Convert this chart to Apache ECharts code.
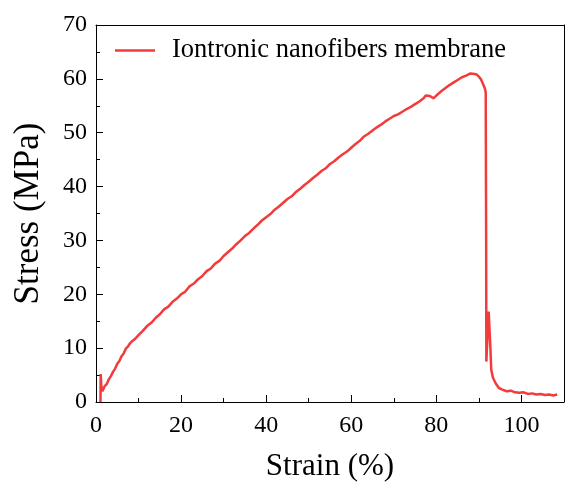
<!DOCTYPE html>
<html><head><meta charset="utf-8">
<script src="https://cdn.jsdelivr.net/npm/echarts@6/dist/echarts.min.js"></script>
<style>html,body{margin:0;padding:0;background:#fff}#c{width:565px;height:488px}</style>
</head><body><div id="c"></div>
<script>
const seriesName = 'Iontronic nanofibers membrane';
const strain = [1.05,1.1,1.3,1.5,2,2.5,3,3.5,4,4.5,5,5.5,6,6.5,7,7.5,8,8.5,9,10,11,12,13,14,15,16,17,18,19,20,21,22,23,24,25,26,27,28,29,30,31,32,33,34,35,36,37,38,39,40,41,42,43,44,45,46,47,48,49,50,51,52,53,54,55,56,57,58,59,60,61,62,63,64,65,66,67,68,69,70,71,72,73,74,75,76,77,77.5,78.5,79.3,80,81,82,83,84,85,86,87,88,89,89.5,90,90.5,91,91.4,91.6,91.7,91.75,92.0,92.3,92.5,92.7,92.9,93.3,94,94.7,95.5,96.5,97.5,98.5,99.5,100.5,101.5,102.5,103.5,104.5,105.5,106.5,107.5,108.4];
const stress = [0,5.2,2.4,2.0,2.9,3.3,4.2,4.8,5.6,6.2,7.1,7.6,8.5,9.0,9.9,10.3,10.9,11.3,11.6,12.4,13.2,14.1,14.7,15.6,16.3,17.2,17.7,18.6,19.2,20.0,20.5,21.5,22.0,22.8,23.4,24.3,24.8,25.7,26.2,27.1,27.8,28.5,29.3,30.0,30.8,31.4,32.2,32.9,33.7,34.3,34.9,35.7,36.3,37.0,37.7,38.2,39.0,39.6,40.3,40.9,41.6,42.2,42.9,43.4,44.2,44.7,45.4,46.0,46.5,47.2,47.9,48.5,49.3,49.8,50.4,51.0,51.5,52.1,52.6,53.1,53.4,53.9,54.4,54.8,55.3,55.8,56.4,56.9,56.8,56.4,56.9,57.6,58.2,58.8,59.3,59.8,60.3,60.6,61.0,60.9,60.8,60.4,59.9,59.0,58.2,57.5,30,7.5,12,16.8,16.5,10,6.0,4.5,3.4,2.6,2.3,2.0,2.1,1.8,1.7,1.8,1.5,1.6,1.4,1.5,1.3,1.4,1.2,1.4];
const xTicks = {min: 0, max: 110, interval: 20};
const yTicks = {min: 0, max: 70, interval: 10};

const data = strain.map((s, i) => [s, stress[i]]);
const font = 'Liberation Serif';
const red = '#f23b3b';
const chart = echarts.init(document.getElementById('c'), null, {renderer: 'canvas'});
const axisCommon = {
  axisLine: {show: true, onZero: false, lineStyle: {color: '#000', width: 1}},
  axisTick: {show: true, inside: true, length: 7, lineStyle: {color: '#000'}},
  minorTick: {show: true, splitNumber: 2, length: 4, lineStyle: {color: '#000'}},
  splitLine: {show: false},
  axisLabel: {color: '#000', fontFamily: font, fontSize: 24},
  nameTextStyle: {color: '#000', fontFamily: font, fontSize: 31}
};
chart.setOption({
  animation: false,
  backgroundColor: '#fff',
  grid: {left: 96, right: 1, top: 25, bottom: 86, containLabel: false},
  legend: {
    left: 110, top: 32, itemWidth: 40, itemHeight: 2.5, icon: 'rect',
    textStyle: {fontFamily: font, fontSize: 26.5, color: '#000', padding: [0, 0, 0, 12]},
    data: [seriesName]
  },
  xAxis: [
    Object.assign({}, axisCommon, {
      type: 'value', min: xTicks.min, max: xTicks.max, interval: xTicks.interval,
      name: 'Strain (%)', nameLocation: 'middle', nameGap: 49,
      axisLabel: Object.assign({}, axisCommon.axisLabel, {margin: 12, showMaxLabel: false})
    }),
    {type: 'value', position: 'top', min: xTicks.min, max: xTicks.max,
     axisLine: {show: true, onZero: false, lineStyle: {color: '#000'}},
     axisTick: {show: false}, axisLabel: {show: false}, splitLine: {show: false}}
  ],
  yAxis: [
    Object.assign({}, axisCommon, {
      type: 'value', min: yTicks.min, max: yTicks.max, interval: yTicks.interval,
      name: 'Stress (MPa)', nameLocation: 'middle', nameGap: 50,
      nameTextStyle: {color: '#000', fontFamily: font, fontSize: 35},
      axisLabel: Object.assign({}, axisCommon.axisLabel, {margin: 9})
    }),
    {type: 'value', position: 'right', min: yTicks.min, max: yTicks.max,
     axisLine: {show: true, onZero: false, lineStyle: {color: '#000'}},
     axisTick: {show: false}, axisLabel: {show: false}, splitLine: {show: false}}
  ],
  series: [{
    name: seriesName, type: 'line', data: data, symbol: 'none',
    lineStyle: {color: red, width: 2.5}, itemStyle: {color: red}
  }]
});
</script></body></html>
